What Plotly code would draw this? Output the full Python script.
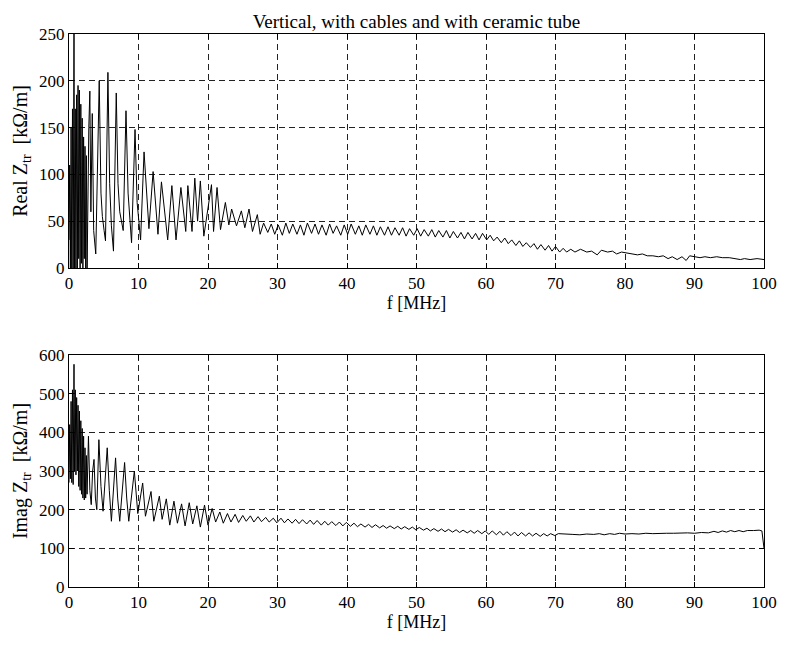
import plotly.graph_objects as go

# ---- data (peaks / troughs of the traces) ----
f_real = [0.0, 0.1, 0.2, 0.3, 0.4, 0.5, 0.6, 0.72, 0.8, 0.9, 1.0, 1.1, 1.2, 1.3, 1.4, 1.5, 1.6, 1.7,
          1.8, 1.9, 2.0, 2.1, 2.2, 2.3, 2.4, 2.5, 2.6, 2.75, 2.85,
          3.0, 3.15, 3.35, 3.55, 3.85, 4.1, 4.35, 4.6, 4.8, 5.05, 5.25, 5.6, 5.85, 6.1, 6.4, 6.8, 7.05, 7.3,
          7.8, 8.2, 8.5, 9.0, 9.5, 9.8, 10.3, 10.8, 11.5, 12.1, 12.8, 13.3, 14.2, 14.8, 15.4, 16.1, 16.8,
          17.1, 17.7, 18.1, 18.5, 18.9, 19.4, 20.5, 20.8, 21.3, 21.8, 22.5, 23.0, 23.4, 24.1, 24.8, 25.3,
          25.9, 26.4, 27.1, 27.5, 28.0, 28.6, 29.1, 29.6, 30.1, 30.7, 31.2, 31.7, 32.2, 32.8, 33.3, 33.8,
          34.3, 34.9, 35.4, 35.9, 36.4, 37.0, 37.5, 38.0, 38.5, 39.1, 39.6, 40.1, 40.6, 41.2, 41.7, 42.2,
          42.7, 43.3, 43.8, 44.3, 44.8, 45.4, 45.9, 46.4, 46.9, 47.5, 48.0, 48.5, 49.0, 49.6, 50.1, 50.6,
          51.1, 51.7, 52.2, 52.7, 53.2, 53.8, 54.3, 54.8, 55.3, 55.9, 56.4, 56.9, 57.4, 58.0, 58.5, 59.0,
          59.5, 60.1, 60.6, 61.1, 61.6, 62.2, 62.7, 63.2, 63.7, 64.3, 64.8, 65.3, 65.8, 66.4, 66.9, 67.4,
          67.9, 68.5, 69.0, 69.5, 70.0, 70.6, 71.1, 71.6, 72.2, 72.8, 73.6, 74.5, 75.2, 76.0, 76.6, 77.5,
          78.2, 78.8, 79.5, 80.3, 81.0, 81.8, 82.5, 83.2, 84.0, 84.8, 85.5, 86.2, 86.8, 87.5, 88.2, 88.8,
          89.3, 90.0, 90.8, 91.5, 92.3, 93.2, 94.0, 95.0, 96.0, 96.6, 97.2, 98.0, 99.0, 100.0]
z_real = [30, 110, -5, 150, -10, 170, -10, 260, -10, 170, -5, 185, 0, 195, 10, 190, -5, 175,
          5, 160, 0, 140, 10, 130, 0, 120, -5, 110, 150,
          189, 60, 165, 40, 15, 120, 200, 80, 55, 40, 29, 209, 90, 45, 18, 187, 90, 60,
          40, 168, 80, 27, 148, 70, 30, 124, 42, 103, 36, 92, 30, 88, 30, 86, 39,
          88, 39, 96, 50, 93, 34, 89, 39, 86, 41, 70, 46, 63, 45, 61, 43,
          63, 39, 57, 36, 48, 38, 47, 36, 46, 35, 48, 37, 47, 36, 46, 35,
          48, 37, 47, 36, 46, 35, 47, 37, 45, 35, 46, 36, 47, 36, 45, 35,
          46, 36, 45, 35, 44, 35, 44, 35, 43, 35, 43, 34, 42, 35, 42, 34,
          41, 34, 41, 33, 40, 33, 40, 32, 39, 32, 38, 31, 38, 31, 37, 30,
          37, 30, 35, 29, 33, 27, 32, 26, 30, 24, 29, 23, 27, 22, 26, 20,
          25, 19, 24, 18, 23, 17, 21, 17, 20, 17, 20, 17, 18, 14, 19, 17,
          18, 15, 17, 16, 15, 14, 15, 13, 13, 12, 13, 10, 12, 9, 12, 8,
          13, 12, 11, 12, 11, 12, 11, 11, 10, 9, 10, 9, 10, 9]

f_imag = [0.0, 0.1, 0.2, 0.3, 0.4, 0.5, 0.6, 0.72, 0.8, 0.9, 1.0, 1.1, 1.2, 1.3, 1.4, 1.5, 1.6, 1.7,
          1.8, 1.9, 2.0, 2.1, 2.2, 2.3, 2.4, 2.5, 2.6,
          2.8, 3.0, 3.2, 3.4, 3.6, 3.8, 4.0, 4.3, 4.6, 4.9, 5.5, 5.8, 6.1, 6.7, 7.0, 7.3, 8.0,
          8.3, 8.6, 9.4, 9.9, 10.6, 11.0, 11.8, 12.2, 13.0, 13.4, 14.0, 14.5, 15.1, 15.6, 16.2, 16.7,
          17.3, 17.8, 18.4, 18.9, 19.5, 20.0, 20.6, 21.1, 21.7, 22.2, 22.8, 23.3, 23.9, 24.4, 25.0,
          25.5, 26.1, 26.6, 27.2, 27.7, 28.3, 28.8, 29.4, 29.9, 30.5, 31.0, 31.5, 32.1, 32.6, 33.1,
          33.6, 34.2, 34.7, 35.2, 35.7, 36.3, 36.8, 37.3, 37.8, 38.4, 38.9, 39.4, 39.9, 40.5, 41.0,
          41.5, 42.0, 42.6, 43.1, 43.6, 44.1, 44.7, 45.2, 45.7, 46.2, 46.8, 47.3, 47.8, 48.3, 48.9,
          49.4, 49.9, 50.4, 51.0, 51.5, 52.0, 52.5, 53.1, 53.6, 54.1, 54.6, 55.2, 55.7, 56.2, 56.7,
          57.3, 57.8, 58.3, 58.8, 59.4, 59.9, 60.4, 60.9, 61.5, 62.0, 62.5, 63.0, 63.6, 64.1, 64.6,
          65.1, 65.7, 66.2, 66.7, 67.2, 67.8, 68.3, 68.8, 69.3, 69.9, 70.4, 71.5, 72.5, 73.5, 74.5,
          75.5, 76.3, 77.0, 77.8, 78.5, 79.2, 80.0, 81.0, 82.0, 83.0, 84.0, 85.0, 86.0, 87.0, 88.0,
          89.0, 90.0, 91.0, 92.0, 92.8, 93.4, 94.0, 94.6, 95.2, 95.8, 96.4, 97.0, 97.6, 98.5, 99.3,
          99.7, 100.0]
z_imag = [270, 420, 280, 480, 270, 510, 265, 576, 300, 510, 290, 490, 300, 470, 260, 455, 250, 430,
          240, 410, 230, 390, 225, 360, 230, 340, 240,
          390, 250, 213, 300, 330, 230, 200, 381, 260, 196, 360, 250, 170, 334, 230, 170, 322,
          230, 170, 300, 190, 269, 183, 247, 170, 235, 175, 228, 160, 222, 165, 215, 158,
          218, 163, 210, 155, 212, 160, 203, 168, 194, 165, 190, 168, 188, 167, 185,
          170, 184, 168, 182, 169, 180, 168, 178, 166, 178, 166, 176, 165, 175, 164,
          174, 163, 173, 162, 172, 160, 170, 160, 169, 159, 168, 158, 167, 157, 165,
          156, 163, 155, 162, 154, 161, 153, 159, 152, 158, 151, 157, 150, 156, 149,
          155, 148, 154, 147, 152, 145, 151, 144, 150, 143, 149, 142, 148, 141, 147,
          140, 146, 139, 146, 138, 145, 136, 145, 135, 144, 134, 143, 133, 142, 132,
          141, 132, 140, 132, 139, 131, 138, 132, 138, 133, 138, 136, 136, 135, 137,
          136, 138, 135, 138, 136, 139, 137, 138, 137, 139, 138, 139, 139, 139, 140,
          140, 139, 141, 140, 144, 141, 145, 142, 146, 143, 146, 143, 146, 146, 147,
          145, 100]

x_ticks = [0, 10, 20, 30, 40, 50, 60, 70, 80, 90, 100]
real_ticks = [0, 50, 100, 150, 200, 250]
imag_ticks = [0, 100, 200, 300, 400, 500, 600]

title_text = "Vertical, with cables and with ceramic tube"
xlabel = "f [MHz]"
ylabel_real = "Real Z<sub>tr</sub>  [kΩ/m]"
ylabel_imag = "Imag Z<sub>tr</sub>  [kΩ/m]"

FONT = "Liberation Serif, Times New Roman, serif"

fig = go.Figure()
fig.add_trace(go.Scatter(x=f_real, y=z_real, mode="lines", xaxis="x", yaxis="y",
                         line=dict(color="black", width=1), showlegend=False))
fig.add_trace(go.Scatter(x=f_imag, y=z_imag, mode="lines", xaxis="x2", yaxis="y2",
                         line=dict(color="black", width=1), showlegend=False))

axis_common = dict(
    showline=True, linecolor="black", linewidth=1, mirror="ticks",
    ticks="inside", ticklen=5, tickcolor="black", tickwidth=1,
    showgrid=True, gridcolor="#222222", gridwidth=1, griddash="6px,4px",
    zeroline=False, tickfont=dict(family=FONT, size=17, color="black"),
    automargin=False,
)

fig.update_layout(
    width=785, height=645,
    margin=dict(l=61, r=29, t=26, b=66),
    paper_bgcolor="white", plot_bgcolor="white",
    font=dict(family=FONT, size=17, color="black"),
    title=dict(text=title_text, x=0.5, xref="paper", xanchor="center",
               y=0.99, yref="container", yanchor="top",
               font=dict(family=FONT, size=19, color="black")),
    xaxis=dict(domain=[0, 1], range=[0, 100], tickvals=x_ticks, anchor="y",
               title=dict(text=xlabel, standoff=1, font=dict(family=FONT, size=18)), **axis_common),
    yaxis=dict(domain=[0.5769, 1], range=[0, 250], tickvals=real_ticks, anchor="x",
               title=dict(text=ylabel_real, standoff=6, font=dict(family=FONT, size=20)), **axis_common),
    xaxis2=dict(domain=[0, 1], range=[0, 100], tickvals=x_ticks, anchor="y2",
                title=dict(text=xlabel, standoff=1, font=dict(family=FONT, size=18)), **axis_common),
    yaxis2=dict(domain=[0, 0.4195], range=[0, 600], tickvals=imag_ticks, anchor="x2",
                title=dict(text=ylabel_imag, standoff=6, font=dict(family=FONT, size=20)), **axis_common),
)

fig.write_html("out.html")
